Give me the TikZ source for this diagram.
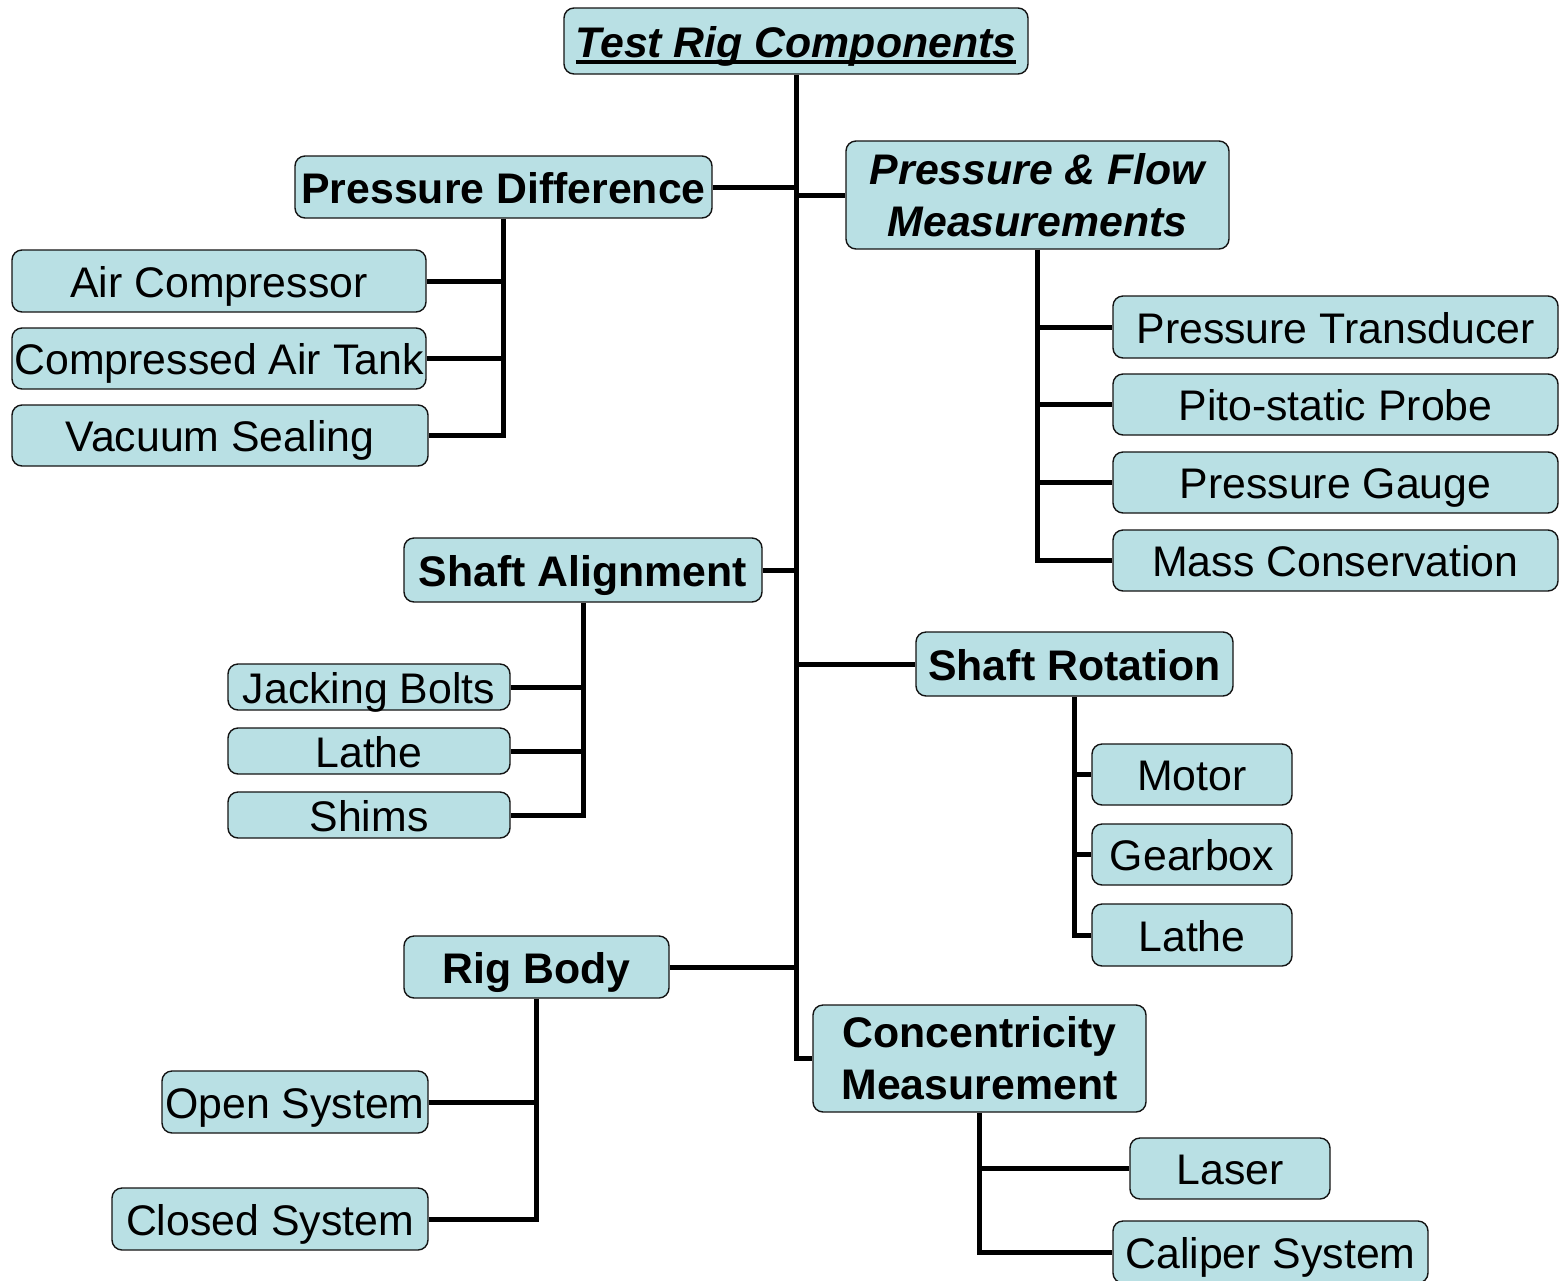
\documentclass[tikz,border=0pt]{standalone}
\usepackage{fontspec}
\setmainfont{Liberation Sans}
\usetikzlibrary{calc}
\definecolor{boxfill}{RGB}{185,224,228}
\definecolor{boxline}{RGB}{20,20,20}
\newcommand{\thickul}[1]{\setbox0\hbox{#1}\rlap{\usebox0}\rule[-3.4pt]{\wd0}{1.7pt}}
\tikzset{
    comp/.style={draw=boxline,line width=0.7pt,fill=boxfill,rounded corners=5pt,
        inner sep=0pt,align=center,font=\fontsize{21.4}{26}\selectfont},
    oneline/.style={text height=16pt,text depth=0pt},
    group/.style={comp,oneline,font=\fontsize{21.4}{26}\selectfont\bfseries},
    twoline/.style={comp,font=\fontsize{21.4}{26}\selectfont\bfseries},
    headbox/.style={comp,oneline,font=\fontsize{21.4}{26}\selectfont\bfseries\itshape},
    leaf/.style={comp,oneline},
    link/.style={line width=2.5pt,black}
}

\begin{document}
\begin{tikzpicture}[x=0.5pt,y=-0.5pt]
    \useasboundingbox (0,0) rectangle (1560,1281);
    % Title
    \node[headbox,minimum width=232pt,minimum height=33pt] (title) at (796,41) {\thickul{Test Rig Components}};
    % Groups
    \node[group,minimum width=208.5pt,minimum height=31pt] (pdiff) at (503.5,187) {Pressure Difference};
    \node[twoline,font=\fontsize{21.4}{26}\selectfont\bfseries\itshape,minimum width=191.5pt,minimum height=54pt] (pflow) at (1037.5,195) {Pressure \& Flow\\Measurements};
    \node[group,minimum width=179pt,minimum height=32pt] (salign) at (583,570) {Shaft Alignment};
    \node[group,minimum width=158.5pt,minimum height=32pt] (srot) at (1074.5,664) {Shaft Rotation};
    \node[group,minimum width=132.5pt,minimum height=31pt] (rigbody) at (536.5,967) {Rig Body};
    \node[twoline,minimum width=166.5pt,minimum height=53.5pt] (conc) at (979.5,1058.5) {Concentricity\\Measurement};
    % Pressure difference items
    \node[leaf,minimum width=207pt,minimum height=31pt] (aircomp) at (219,281) {Air Compressor};
    \node[leaf,minimum width=207pt,minimum height=30.5pt] (airtank) at (219,358.5) {Compressed Air Tank};
    \node[leaf,minimum width=208pt,minimum height=30.5pt] (vacuum) at (220,435.5) {Vacuum Sealing};
    % Pressure and flow items
    \node[leaf,minimum width=222.5pt,minimum height=31pt] (ptrans) at (1335.5,327) {Pressure Transducer};
    \node[leaf,minimum width=222.5pt,minimum height=30.5pt] (pitot) at (1335.5,404.5) {Pito-static Probe};
    \node[leaf,minimum width=222.5pt,minimum height=30.5pt] (pgauge) at (1335.5,482.5) {Pressure Gauge};
    \node[leaf,minimum width=222.5pt,minimum height=30.5pt] (mass) at (1335.5,560.5) {Mass Conservation};
    % Shaft alignment items
    \node[leaf,minimum width=141pt,minimum height=23pt] (jacking) at (369,687) {Jacking Bolts};
    \node[leaf,minimum width=141pt,minimum height=23pt] (lathea) at (369,751) {Lathe};
    \node[leaf,minimum width=141pt,minimum height=23pt] (shims) at (369,815) {Shims};
    % Shaft rotation items
    \node[leaf,minimum width=100pt,minimum height=30.5pt] (motor) at (1192,774.5) {Motor};
    \node[leaf,minimum width=100pt,minimum height=30.5pt] (gearbox) at (1192,854.5) {Gearbox};
    \node[leaf,minimum width=100pt,minimum height=31pt] (latheb) at (1192,935) {Lathe};
    % Rig body items
    \node[leaf,minimum width=133pt,minimum height=31pt] (opensys) at (295,1102) {Open System};
    \node[leaf,minimum width=158pt,minimum height=31pt] (closedsys) at (270,1219) {Closed System};
    % Concentricity items
    \node[leaf,minimum width=100pt,minimum height=30.5pt] (laser) at (1230,1168.5) {Laser};
    \node[leaf,minimum width=157.5pt,minimum height=31pt] (caliper) at (1270.5,1252) {Caliper System};
    % Trunk
    \draw[link] (title.south) -- (title.south |- conc.west) -- (conc.west);
    \draw[link] (pdiff.east) -- (pdiff.east -| title.south);
    \draw[link] (pflow.west -| title.south) -- (pflow.west);
    \draw[link] (salign.east) -- (salign.east -| title.south);
    \draw[link] (srot.west -| title.south) -- (srot.west);
    \draw[link] (rigbody.east) -- (rigbody.east -| title.south);
    % Branches
    \draw[link] (pdiff.south) -- (pdiff.south |- vacuum.east) -- (vacuum.east);
    \draw[link] (aircomp.east) -- (aircomp.east -| pdiff.south);
    \draw[link] (airtank.east) -- (airtank.east -| pdiff.south);
    \draw[link] (pflow.south) -- (pflow.south |- mass.west) -- (mass.west);
    \draw[link] (ptrans.west -| pflow.south) -- (ptrans.west);
    \draw[link] (pitot.west -| pflow.south) -- (pitot.west);
    \draw[link] (pgauge.west -| pflow.south) -- (pgauge.west);
    \draw[link] (salign.south) -- (salign.south |- shims.east) -- (shims.east);
    \draw[link] (jacking.east) -- (jacking.east -| salign.south);
    \draw[link] (lathea.east) -- (lathea.east -| salign.south);
    \draw[link] (srot.south) -- (srot.south |- latheb.west) -- (latheb.west);
    \draw[link] (motor.west -| srot.south) -- (motor.west);
    \draw[link] (gearbox.west -| srot.south) -- (gearbox.west);
    \draw[link] (rigbody.south) -- (rigbody.south |- closedsys.east) -- (closedsys.east);
    \draw[link] (opensys.east) -- (opensys.east -| rigbody.south);
    \draw[link] (conc.south) -- (conc.south |- caliper.west) -- (caliper.west);
    \draw[link] (laser.west -| conc.south) -- (laser.west);
\end{tikzpicture}
\end{document}
